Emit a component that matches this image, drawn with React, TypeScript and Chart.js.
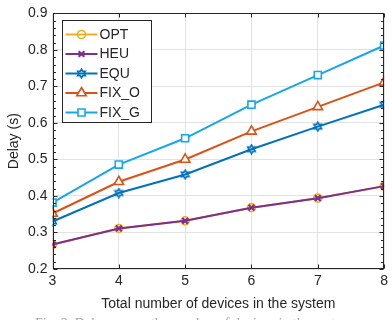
import React, { useEffect, useRef } from 'react';
import { Chart, registerables } from 'chart.js';
import { drawPoint } from 'chart.js/helpers';

Chart.register(...registerables);

const devices = [3, 4, 5, 6, 7, 8];
const xTickLabels = ['3', '4', '5', '6', '7', '8'];
const yTickValues = [0.2, 0.3, 0.4, 0.5, 0.6, 0.7, 0.8, 0.9];
const yTickLabels = ['0.2', '0.3', '0.4', '0.5', '0.6', '0.7', '0.8', '0.9'];
const seriesNames = ['OPT', 'HEU', 'EQU', 'FIX_O', 'FIX_G'];
const optDelay = [0.267, 0.311, 0.332, 0.368, 0.394, 0.427];
const heuDelay = [0.267, 0.311, 0.332, 0.368, 0.394, 0.427];
const equDelay = [0.330, 0.408, 0.459, 0.528, 0.590, 0.650];
const fixODelay = [0.352, 0.439, 0.500, 0.577, 0.644, 0.711];
const fixGDelay = [0.382, 0.486, 0.558, 0.650, 0.731, 0.812];
const xTitle = 'Total number of devices in the system';
const yTitle = 'Delay (s)';
const caption = 'Fig. 3. Delay versus the number of devices in the system.';

const FONT = "'Liberation Sans', Arial, Helvetica, sans-serif";
const AXIS = '#262626';

function makeHexagram(color: string) {
  const c = document.createElement('canvas');
  c.width = 11;
  c.height = 11;
  const g = c.getContext('2d')!;
  g.strokeStyle = color;
  g.lineWidth = 1.6;
  g.beginPath();
  for (let i = 0; i < 12; i++) {
    const r = i % 2 === 0 ? 4.4 : 2.5;
    const a = -Math.PI / 2 + (i * Math.PI) / 6;
    const px = 5.5 + r * Math.cos(a);
    const py = 5.5 + r * Math.sin(a);
    if (i === 0) g.moveTo(px, py);
    else g.lineTo(px, py);
  }
  g.closePath();
  g.stroke();
  return c;
}

const frameTicksPlugin = {
  id: 'frameTicks',
  afterDatasetsDraw(chart: any) {
    const { ctx, chartArea, scales } = chart;
    const { left, right, top, bottom } = chartArea;
    const x = scales.x;
    const y = scales.y;
    ctx.save();
    ctx.strokeStyle = AXIS;
    ctx.lineWidth = 1;
    const L = Math.round(left) + 0.5;
    const R = Math.round(right) - 0.5;
    const T = Math.round(top) + 0.5;
    const B = Math.round(bottom) - 0.5;
    ctx.strokeRect(L, T, R - L, B - T);
    ctx.beginPath();
    x.ticks.forEach((t: any) => {
      const px = Math.round(x.getPixelForValue(t.value)) + 0.5;
      ctx.moveTo(px, B);
      ctx.lineTo(px, B - 4);
      ctx.moveTo(px, T);
      ctx.lineTo(px, T + 4);
    });
    y.ticks.forEach((t: any) => {
      const py = Math.round(y.getPixelForValue(t.value)) + 0.5;
      ctx.moveTo(L, py);
      ctx.lineTo(L + 4, py);
      ctx.moveTo(R, py);
      ctx.lineTo(R - 4, py);
    });
    for (let i = 0; i < yTickValues.length - 1; i++) {
      const a = yTickValues[i];
      const b = yTickValues[i + 1];
      for (let k = 1; k < 5; k++) {
        const v = a + ((b - a) * k) / 5;
        const py = Math.round(y.getPixelForValue(v)) + 0.5;
        ctx.moveTo(L, py);
        ctx.lineTo(L + 2.5, py);
        ctx.moveTo(R, py);
        ctx.lineTo(R - 2.5, py);
      }
    }
    ctx.stroke();
    ctx.restore();
  },
};

const legendPlugin = {
  id: 'boxLegend',
  afterDraw(chart: any) {
    const { ctx, chartArea } = chart;
    const x0 = Math.round(chartArea.left + 9) + 0.5;
    const y0 = Math.round(chartArea.top + 7) + 0.5;
    const w = 89;
    const h = 102;
    ctx.save();
    ctx.fillStyle = '#ffffff';
    ctx.fillRect(x0, y0, w, h);
    ctx.strokeStyle = AXIS;
    ctx.lineWidth = 1;
    ctx.strokeRect(x0, y0, w, h);
    chart.data.datasets.forEach((ds: any, i: number) => {
      const cy = y0 + 14 + i * 19.5;
      ctx.strokeStyle = ds.borderColor;
      ctx.lineWidth = ds.borderWidth;
      ctx.beginPath();
      ctx.moveTo(x0 + 3, cy);
      ctx.lineTo(x0 + 35, cy);
      ctx.stroke();
      ctx.fillStyle = ds.pointBackgroundColor;
      ctx.lineWidth = ds.pointBorderWidth;
      drawPoint(
        ctx,
        { pointStyle: ds.pointStyle, radius: ds.pointRadius, borderWidth: ds.pointBorderWidth, rotation: 0 },
        x0 + 19,
        cy
      );
      ctx.fillStyle = AXIS;
      ctx.font = `14px ${FONT}`;
      ctx.textBaseline = 'middle';
      ctx.textAlign = 'left';
      ctx.fillText(ds.label, x0 + 37, cy + 0.5);
    });
    ctx.restore();
  },
};

export default function App() {
  const ref = useRef<HTMLCanvasElement>(null);

  useEffect(() => {
    document.body.style.margin = '0';
    const colors = ['#EDB120', '#7E2F8E', '#0072BD', '#D95319', '#16A6EE'];
    const values = [optDelay, heuDelay, equDelay, fixODelay, fixGDelay];
    const styles: any[] = ['circle', 'crossRot', makeHexagram(colors[2]), 'triangle', 'rect'];
    const radii = [4, 4, 5, 5.5, 5];
    const fills = ['rgba(0,0,0,0)', 'rgba(0,0,0,0)', 'rgba(0,0,0,0)', '#ffffff', '#ffffff'];
    const datasets = seriesNames.map((name, i) => ({
      label: name,
      data: devices.map((d, j) => ({ x: d, y: values[i][j] })),
      borderColor: colors[i],
      backgroundColor: 'rgba(0,0,0,0)',
      pointBorderColor: colors[i],
      pointBackgroundColor: fills[i],
      borderWidth: 2,
      pointBorderWidth: i === 1 ? 2.2 : 1.6,
      pointStyle: styles[i],
      pointRadius: radii[i],
      tension: 0,
      order: seriesNames.length - i,
    }));

    const chart = new Chart(ref.current!, {
      type: 'line',
      data: { datasets },
      plugins: [frameTicksPlugin, legendPlugin],
      options: {
        animation: false,
        responsive: false,
        layout: { padding: { top: 8, right: 4.5, left: 0, bottom: 0 } },
        plugins: { legend: { display: false }, tooltip: { enabled: false } },
        scales: {
          x: {
            type: 'linear',
            min: devices[0],
            max: devices[devices.length - 1],
            afterBuildTicks: (s: any) => {
              s.ticks = devices.map((v) => ({ value: v }));
            },
            afterFit: (s: any) => {
              s.height = 51;
            },
            ticks: {
              callback: (_v: any, idx: number) => xTickLabels[idx],
              font: { size: 14, family: FONT },
              color: AXIS,
              padding: 4,
              maxRotation: 0,
            },
            grid: { color: '#e2e2e2', drawTicks: false },
            border: { display: false },
            title: {
              display: true,
              text: xTitle,
              font: { size: 14, family: FONT },
              color: AXIS,
              padding: { top: 0, bottom: 7 },
            },
          },
          y: {
            type: 'linear',
            min: yTickValues[0],
            max: yTickValues[yTickValues.length - 1],
            afterBuildTicks: (s: any) => {
              s.ticks = yTickValues.map((v) => ({ value: v }));
            },
            afterFit: (s: any) => {
              s.width = 52.5;
            },
            ticks: {
              callback: (_v: any, idx: number) => yTickLabels[idx],
              font: { size: 14, family: FONT },
              color: AXIS,
              padding: 5,
            },
            grid: { color: '#e2e2e2', drawTicks: false },
            border: { display: false },
            title: {
              display: true,
              text: yTitle,
              font: { size: 14, family: FONT },
              color: AXIS,
              padding: { top: 6, bottom: 0 },
            },
          },
        },
      },
    });
    return () => chart.destroy();
  }, []);

  return (
    <div style={{ position: 'relative', width: 392, height: 320, overflow: 'hidden', background: '#fff' }}>
      <canvas ref={ref} width={392} height={320} style={{ display: 'block' }} />
      <div
        style={{
          position: 'absolute',
          left: 35,
          top: 316,
          fontFamily: "'Liberation Serif', 'Times New Roman', serif",
          fontSize: 14,
          color: '#a8a8a8',
          whiteSpace: 'nowrap',
          lineHeight: '16px',
        }}
      >
        {caption}
      </div>
    </div>
  );
}
